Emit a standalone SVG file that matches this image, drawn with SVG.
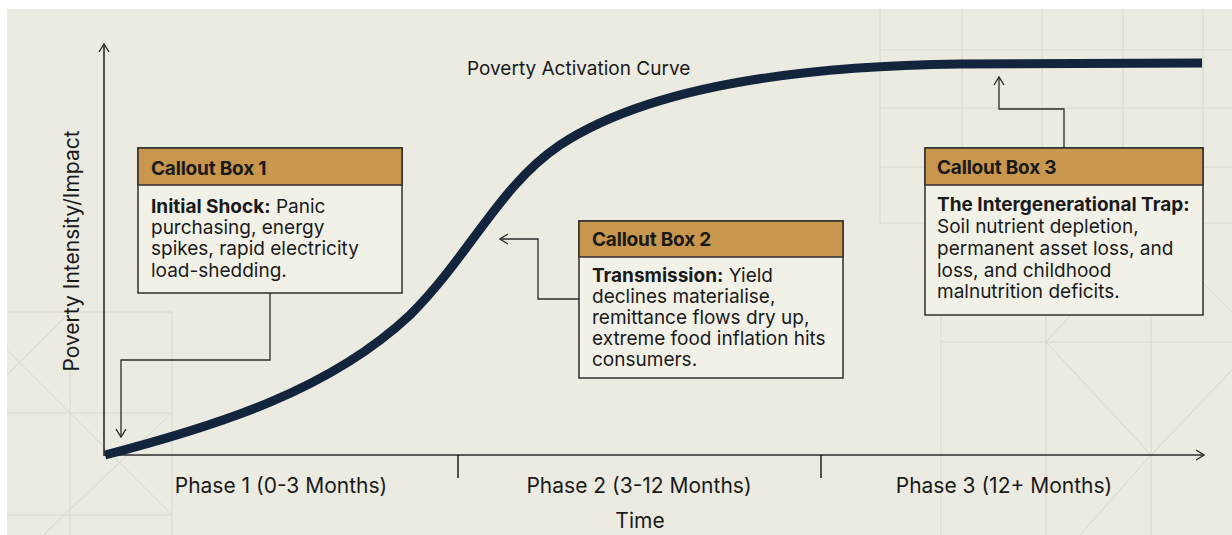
<svg xmlns="http://www.w3.org/2000/svg" width="1232" height="535" viewBox="0 0 1232 535">
  <style>
    .grid { stroke: #d9d8cc; stroke-width: 1; fill: none; }
    .axis { stroke: #2b2b2b; stroke-width: 1.6; fill: none; }
    .lead { stroke: #2b2b2b; stroke-width: 1.3; fill: none; }
    .box { fill: #f2f1e8; stroke: #2e2e2e; stroke-width: 1.5; }
    .head { fill: #c8964d; stroke: #2e2e2e; stroke-width: 1.5; }
    .title { font-family: Inter, "Liberation Sans", sans-serif; font-weight: 700; font-size: 19px; fill: #1a1a1a; letter-spacing: -0.2px; }
    .body { font-family: Inter, "Liberation Sans", sans-serif; font-size: 19px; fill: #1a1a1a; }
    .body .b { font-weight: 700; }
    .label { font-family: Inter, "Liberation Sans", sans-serif; font-size: 21px; fill: #1a1a1a; }
    .caption { font-family: Inter, "Liberation Sans", sans-serif; font-size: 19px; fill: #1a1a1a; }
  </style>
  <defs>
    <marker id="open" viewBox="0 0 12 12" refX="11" refY="6" markerWidth="12" markerHeight="12" markerUnits="userSpaceOnUse" orient="auto">
      <path d="M3,1 L11,6 L3,11" fill="none" stroke="#2b2b2b" stroke-width="1.4"/>
    </marker>
  </defs>

  <!-- paper -->
  <rect x="0" y="0" width="1232" height="535" fill="#ffffff"/>
  <rect x="7" y="9" width="1225" height="526" fill="#ecebe1"/>

  <!-- faint construction grid -->
  <g id="grid" class="grid">
    <!-- lower left -->
    <path d="M70,312 V535 M172,312 V535 M7,312 H172 M7,413 H172 M7,515 H172"/>
    <path d="M7,350 L172,515 M172,413 L43,535 M70,312 L7,375"/>
    <!-- upper right -->
    <path d="M880,9 V223 M962,9 V148 M1042,9 V148 M1123,9 V148 M1203,9 V148"/>
    <path d="M880,50 H1232 M880,108 H1232 M880,167 H925 M1203,167 H1232 M880,223 H925 M1203,223 H1232"/>
    <!-- lower right -->
    <path d="M941,315 V535 M1046,315 V535 M1151,315 V535 M941,342 H1232"/>
    <path d="M1070,316 L1046,342 L1151,455 M1232,370 L1151,455 L1080,535 M1203,283 L1232,312"/>
  </g>

  <!-- axes -->
  <g id="axes">
    <line class="axis" x1="104" y1="456" x2="104" y2="44" marker-end="url(#open)"/>
    <line class="axis" x1="104" y1="455" x2="1204" y2="455" marker-end="url(#open)"/>
    <line class="axis" x1="458" y1="455" x2="458" y2="478"/>
    <line class="axis" x1="821" y1="455" x2="821" y2="478"/>
    <text class="label" transform="translate(79,251) rotate(-90)" text-anchor="middle">Poverty Intensity/Impact</text>
    <text class="label" x="281" y="493" text-anchor="middle">Phase 1 (0-3 Months)</text>
    <text class="label" x="639" y="493" text-anchor="middle">Phase 2 (3-12 Months)</text>
    <text class="label" x="1004" y="493" text-anchor="middle">Phase 3 (12+ Months)</text>
    <text class="label" x="640" y="528" text-anchor="middle">Time</text>
  </g>

  <!-- activation curve -->
  <g id="curve">
    <path d="M105,455 C220,425 330,390 410,315 C470,255 500,185 560,145 C650,86 800,66 960,64 L1202,63" fill="none" stroke="#13243d" stroke-width="9"/>
    <text class="caption" x="467" y="75">Poverty Activation Curve</text>
  </g>

  <!-- leader lines -->
  <g id="connectors">
    <path class="lead" d="M270,293 V360 H121 V437" marker-end="url(#open)"/>
    <path class="lead" d="M579,299 H538 V239 H500" marker-end="url(#open)"/>
    <path class="lead" d="M1064,148 V109 H999 V77" marker-end="url(#open)"/>
  </g>

  <!-- callout 1 -->
  <g id="callout1">
    <rect class="box" x="138" y="148" width="264" height="145"/>
    <rect class="head" x="138" y="148" width="264" height="37"/>
    <text class="title" x="151" y="175">Callout Box 1</text>
    <text class="body">
      <tspan x="151" y="213"><tspan class="b">Initial Shock:</tspan> Panic</tspan>
      <tspan x="151" y="234">purchasing, energy</tspan>
      <tspan x="151" y="255">spikes, rapid electricity</tspan>
      <tspan x="151" y="277">load-shedding.</tspan>
    </text>
  </g>

  <!-- callout 2 -->
  <g id="callout2">
    <rect class="box" x="579" y="221" width="264" height="157"/>
    <rect class="head" x="579" y="221" width="264" height="36"/>
    <text class="title" x="592" y="246">Callout Box 2</text>
    <text class="body">
      <tspan x="592" y="282"><tspan class="b">Transmission:</tspan> Yield</tspan>
      <tspan x="592" y="303">declines materialise,</tspan>
      <tspan x="592" y="324">remittance flows dry up,</tspan>
      <tspan x="592" y="345">extreme food inflation hits</tspan>
      <tspan x="592" y="366">consumers.</tspan>
    </text>
  </g>

  <!-- callout 3 -->
  <g id="callout3">
    <rect class="box" x="925" y="148" width="278" height="167"/>
    <rect class="head" x="925" y="148" width="278" height="37"/>
    <text class="title" x="937" y="174">Callout Box 3</text>
    <text class="body">
      <tspan x="937" y="211" class="b">The Intergenerational Trap:</tspan>
      <tspan x="937" y="233">Soil nutrient depletion,</tspan>
      <tspan x="937" y="255">permanent asset loss, and</tspan>
      <tspan x="937" y="277">loss, and childhood</tspan>
      <tspan x="937" y="298">malnutrition deficits.</tspan>
    </text>
  </g>
</svg>
